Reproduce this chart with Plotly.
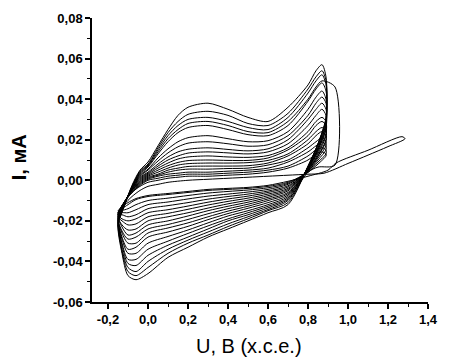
import plotly.graph_objects as go

# Potential grids (V vs s.c.e.)
E_anodic = [-0.15, -0.12, -0.08, -0.04, 0.0, 0.05, 0.1, 0.15, 0.2, 0.3, 0.4,
            0.5, 0.6, 0.7, 0.8, 0.84, 0.87]
E_cathodic = [0.85, 0.8, 0.7, 0.6, 0.5, 0.4, 0.3, 0.2, 0.1, 0.0, -0.06, -0.1,
              -0.13, -0.15]

# Switching potential of each cycle
E_switch = [0.89, 0.89, 0.89, 0.89, 0.89, 0.89, 0.89, 0.89, 0.89, 0.89,
            0.89, 0.89, 0.89, 0.935, 0.89, 0.89, 0.89]

# Anodic currents (mA): values at E_anodic, last value at the switching potential
I_anodic = [
    [-0.016, -0.011, -0.006, -0.003, -0.001, 0.000, 0.001, 0.0015, 0.002, 0.002, 0.0025, 0.003, 0.004, 0.006, 0.010, 0.013, 0.014, 0.013],
    [-0.016, -0.011, -0.006, -0.0025, 0.000, 0.001, 0.002, 0.0025, 0.003, 0.003, 0.0035, 0.004, 0.005, 0.007, 0.012, 0.015, 0.016, 0.015],
    [-0.017, -0.011, -0.006, -0.002, 0.0005, 0.002, 0.003, 0.0035, 0.004, 0.004, 0.0045, 0.005, 0.006, 0.009, 0.014, 0.017, 0.019, 0.017],
    [-0.017, -0.011, -0.0055, -0.0015, 0.001, 0.0025, 0.004, 0.005, 0.0055, 0.0055, 0.0058, 0.006, 0.0075, 0.010, 0.016, 0.019, 0.021, 0.019],
    [-0.017, -0.011, -0.005, -0.001, 0.0015, 0.003, 0.005, 0.006, 0.0068, 0.007, 0.007, 0.0072, 0.0085, 0.012, 0.018, 0.022, 0.024, 0.022],
    [-0.018, -0.011, -0.005, -0.0005, 0.002, 0.004, 0.006, 0.0075, 0.0082, 0.0085, 0.0085, 0.0087, 0.0098, 0.013, 0.020, 0.024, 0.026, 0.024],
    [-0.018, -0.011, -0.005, 0.0, 0.0025, 0.005, 0.0072, 0.0088, 0.0097, 0.010, 0.0098, 0.0098, 0.011, 0.015, 0.022, 0.027, 0.029, 0.027],
    [-0.018, -0.0115, -0.0045, 0.0005, 0.003, 0.006, 0.0085, 0.0105, 0.0115, 0.012, 0.0115, 0.0113, 0.0122, 0.016, 0.024, 0.029, 0.031, 0.029],
    [-0.019, -0.0115, -0.0045, 0.001, 0.0035, 0.007, 0.010, 0.012, 0.0134, 0.014, 0.0135, 0.013, 0.014, 0.018, 0.027, 0.032, 0.035, 0.032],
    [-0.019, -0.012, -0.004, 0.0015, 0.004, 0.008, 0.0115, 0.014, 0.0153, 0.016, 0.0152, 0.0145, 0.0155, 0.020, 0.030, 0.035, 0.038, 0.035],
    [-0.019, -0.012, -0.004, 0.002, 0.005, 0.0095, 0.0135, 0.0165, 0.0183, 0.019, 0.018, 0.0168, 0.0175, 0.022, 0.032, 0.038, 0.041, 0.038],
    [-0.020, -0.012, -0.004, 0.0025, 0.0055, 0.011, 0.0155, 0.019, 0.021, 0.022, 0.0205, 0.019, 0.0195, 0.024, 0.035, 0.041, 0.044, 0.040],
    [-0.020, -0.0125, -0.0035, 0.003, 0.0065, 0.013, 0.019, 0.0235, 0.026, 0.027, 0.025, 0.0225, 0.022, 0.027, 0.039, 0.045, 0.048, 0.044],
    [-0.020, -0.0125, -0.0035, 0.0035, 0.007, 0.014, 0.0205, 0.025, 0.028, 0.029, 0.027, 0.024, 0.0235, 0.029, 0.040, 0.046, 0.049, 0.046],
    [-0.021, -0.013, -0.003, 0.004, 0.0075, 0.015, 0.022, 0.027, 0.030, 0.031, 0.029, 0.026, 0.025, 0.031, 0.043, 0.049, 0.052, 0.047],
    [-0.021, -0.013, -0.003, 0.0045, 0.008, 0.016, 0.0235, 0.029, 0.0325, 0.034, 0.032, 0.028, 0.027, 0.033, 0.045, 0.051, 0.054, 0.049],
    [-0.022, -0.013, -0.0025, 0.005, 0.009, 0.017, 0.025, 0.032, 0.036, 0.038, 0.035, 0.031, 0.029, 0.036, 0.047, 0.054, 0.057, 0.051],
]

# Cathodic currents (mA): first value at the switching potential, then at E_cathodic
I_cathodic = [
    [0.012, 0.008, 0.004, -0.001, -0.003, -0.004, -0.0045, -0.005, -0.006, -0.007, -0.008, -0.0095, -0.012, -0.014, -0.016],
    [0.013, 0.009, 0.004, -0.0015, -0.0037, -0.0048, -0.0055, -0.0063, -0.0075, -0.0088, -0.010, -0.012, -0.014, -0.015, -0.016],
    [0.015, 0.010, 0.0045, -0.002, -0.0045, -0.0058, -0.0068, -0.0078, -0.0092, -0.0107, -0.012, -0.0145, -0.016, -0.016, -0.017],
    [0.017, 0.011, 0.0045, -0.0027, -0.0053, -0.0068, -0.008, -0.0093, -0.011, -0.0125, -0.014, -0.017, -0.018, -0.017, -0.017],
    [0.019, 0.012, 0.005, -0.0033, -0.006, -0.0078, -0.0092, -0.0108, -0.0127, -0.0145, -0.016, -0.019, -0.020, -0.019, -0.017],
    [0.020, 0.012, 0.005, -0.004, -0.0068, -0.0088, -0.0104, -0.0122, -0.0143, -0.0163, -0.018, -0.0215, -0.022, -0.020, -0.018],
    [0.022, 0.013, 0.0053, -0.0046, -0.0076, -0.0098, -0.0116, -0.0137, -0.016, -0.018, -0.020, -0.024, -0.0245, -0.022, -0.018],
    [0.023, 0.014, 0.0055, -0.0052, -0.0084, -0.0108, -0.0128, -0.015, -0.0176, -0.020, -0.022, -0.026, -0.027, -0.023, -0.018],
    [0.025, 0.015, 0.0057, -0.006, -0.0092, -0.0118, -0.014, -0.0165, -0.0193, -0.0218, -0.024, -0.028, -0.029, -0.025, -0.019],
    [0.026, 0.015, 0.006, -0.0066, -0.010, -0.0128, -0.0152, -0.018, -0.021, -0.0235, -0.026, -0.031, -0.031, -0.026, -0.019],
    [0.027, 0.016, 0.006, -0.0073, -0.011, -0.0138, -0.0164, -0.0194, -0.0227, -0.0255, -0.028, -0.033, -0.034, -0.028, -0.019],
    [0.028, 0.016, 0.0063, -0.008, -0.012, -0.015, -0.0176, -0.021, -0.0245, -0.0277, -0.031, -0.036, -0.036, -0.029, -0.020],
    [0.029, 0.017, 0.0065, -0.0087, -0.0128, -0.016, -0.019, -0.0225, -0.0262, -0.030, -0.034, -0.039, -0.039, -0.031, -0.020],
    [0.0075, 0.0065, 0.004, -0.0094, -0.0136, -0.017, -0.020, -0.024, -0.028, -0.032, -0.037, -0.042, -0.041, -0.032, -0.021],
    [0.030, 0.018, 0.0068, -0.010, -0.0144, -0.018, -0.0215, -0.0255, -0.0295, -0.034, -0.040, -0.045, -0.043, -0.034, -0.021],
    [0.030, 0.018, 0.0069, -0.011, -0.015, -0.019, -0.0228, -0.027, -0.031, -0.036, -0.043, -0.047, -0.045, -0.035, -0.022],
    [0.031, 0.018, 0.007, -0.012, -0.016, -0.020, -0.024, -0.028, -0.033, -0.038, -0.046, -0.049, -0.047, -0.036, -0.022],
]

# First scan, taken out to 1.28 V
first_scan_E = [-0.15, -0.12, -0.08, -0.04, 0.0, 0.05, 0.1, 0.2, 0.3, 0.4, 0.5, 0.6,
                0.7, 0.8, 0.88, 1.0, 1.1, 1.2, 1.285, 1.27, 1.1, 0.94, 0.9, 0.8,
                0.7, 0.6, 0.5, 0.4, 0.3, 0.2, 0.1, 0.0, -0.06, -0.1, -0.13, -0.15]
first_scan_I = [-0.016, -0.012, -0.008, -0.005, -0.003, -0.002, -0.001, 0.0, 0.0005,
                0.001, 0.0015, 0.002, 0.0025, 0.003, 0.0035, 0.0083, 0.0124, 0.0166,
                0.0205, 0.0215, 0.0148, 0.0085, 0.005, 0.002, -0.0005, -0.0025,
                -0.0035, -0.004, -0.0045, -0.0055, -0.0065, -0.0075, -0.009, -0.011,
                -0.013, -0.015]

x_tickvals = [-0.2, 0.0, 0.2, 0.4, 0.6, 0.8, 1.0, 1.2, 1.4]
x_ticktext = ["-0,2", "0,0", "0,2", "0,4", "0,6", "0,8", "1,0", "1,2", "1,4"]
y_tickvals = [-0.06, -0.04, -0.02, 0.0, 0.02, 0.04, 0.06, 0.08]
y_ticktext = ["-0,06", "-0,04", "-0,02", "0,00", "0,02", "0,04", "0,06", "0,08"]

LINE = dict(color="#000000", width=1, shape="spline", smoothing=0.8)

fig = go.Figure()

fig.add_trace(go.Scatter(x=first_scan_E, y=first_scan_I, mode="lines",
                         line=LINE, hoverinfo="skip", showlegend=False))

for Es, Ia, Ic in zip(E_switch, I_anodic, I_cathodic):
    xs = E_anodic + [Es] + [Es] + E_cathodic
    ys = Ia + Ic
    fig.add_trace(go.Scatter(x=xs, y=ys, mode="lines", line=LINE,
                             hoverinfo="skip", showlegend=False))

tick_font = dict(family="Liberation Sans, Arial, sans-serif", size=13,
                 color="#000000", weight="bold")

fig.update_xaxes(
    range=[-0.28, 1.4], tickmode="array", tickvals=x_tickvals, ticktext=x_ticktext,
    ticks="outside", ticklen=5, tickwidth=1.5, tickcolor="#000",
    showline=True, linecolor="#000", linewidth=1.5, showgrid=False, zeroline=False,
    tickfont=tick_font,
    minor=dict(ticks="outside", ticklen=3, tickwidth=1, tickcolor="#000",
               tickmode="linear", tick0=-0.1, dtick=0.2, showgrid=False),
)
fig.update_yaxes(
    range=[-0.06, 0.08], tickmode="array", tickvals=y_tickvals, ticktext=y_ticktext,
    ticks="outside", ticklen=5, tickwidth=1.5, tickcolor="#000",
    showline=True, linecolor="#000", linewidth=1.5, showgrid=False, zeroline=False,
    tickfont=tick_font,
    minor=dict(ticks="outside", ticklen=3, tickwidth=1, tickcolor="#000",
               tickmode="linear", tick0=-0.05, dtick=0.02, showgrid=False),
)

title_font = dict(family="Liberation Sans, Arial, sans-serif", size=20, color="#000000")

fig.add_annotation(text="U, В (х.с.е.)", xref="paper", yref="paper",
                   x=0.468, y=-0.155, xanchor="center", yanchor="middle",
                   showarrow=False, font=title_font)
fig.add_annotation(text="I, мА", xref="paper", yref="paper", textangle=-90,
                   x=-0.217, y=0.51, xanchor="center", yanchor="middle",
                   showarrow=False, font=dict(title_font, weight="bold"))

fig.update_layout(
    width=449, height=361,
    margin=dict(l=92, r=11, t=18, b=59),
    paper_bgcolor="white", plot_bgcolor="white",
    showlegend=False,
)

fig.write_html("out.html")
